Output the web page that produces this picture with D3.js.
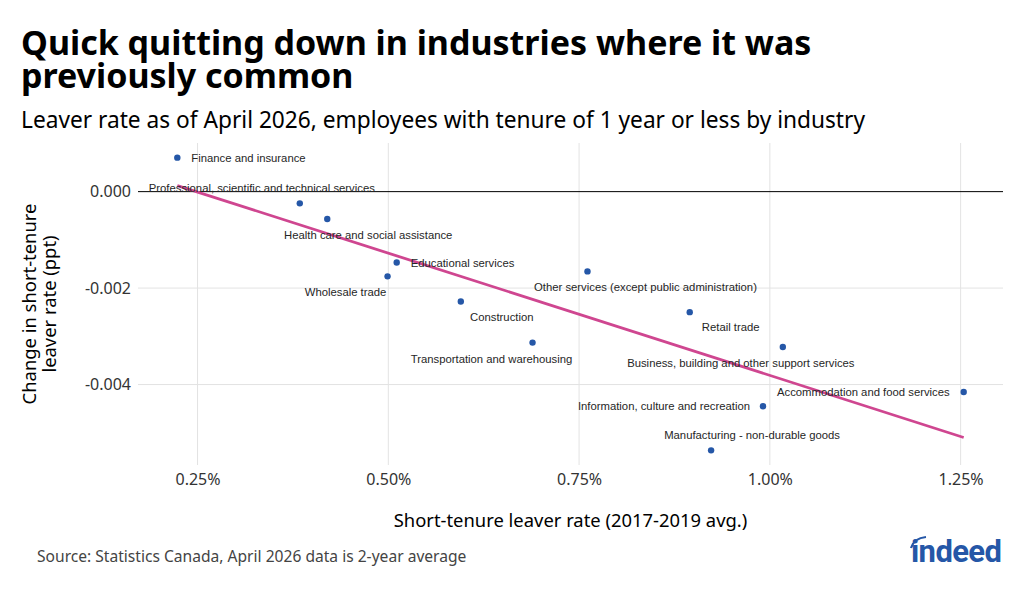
<html>
<head>
<meta charset="utf-8">
<script src="https://d3js.org/d3.v7.min.js"></script>
<style>
  body { margin: 0; background: #fff; }
  svg { display: block; }
</style>
</head>
<body>
<svg width="1024" height="614"></svg>
<script>

// industries, short-tenure leaver rate 2017-2019 avg (fraction), change by April 2026 (ppt)
var industries = [
  "Finance and insurance",
  "Professional, scientific and technical services",
  "Health care and social assistance",
  "Educational services",
  "Wholesale trade",
  "Construction",
  "Transportation and warehousing",
  "Other services (except public administration)",
  "Retail trade",
  "Business, building and other support services",
  "Accommodation and food services",
  "Information, culture and recreation",
  "Manufacturing - non-durable goods"
];
var baseRate = [0.002235, 0.00384, 0.00420, 0.00511, 0.00499, 0.00595, 0.00689, 0.00761, 0.00895, 0.01017, 0.01254, 0.00991, 0.00923];
var change = [0.000705, -0.000243, -0.000567, -0.001468, -0.001757, -0.002278, -0.003130, -0.001654, -0.002499, -0.003221, -0.004155, -0.004449, -0.005365];

var xTicks = [0.0025, 0.005, 0.0075, 0.01, 0.0125];
var yTicks = [0, -0.002, -0.004];

// where each label sits relative to its dot (layout, not data)
var labelPlace = [
  {dx: 14, dy: 0, a: "start"},
  {dx: -38, dy: -15, a: "middle"},
  {dx: 41, dy: 16, a: "middle"},
  {dx: 14, dy: 1, a: "start"},
  {dx: -42, dy: 16, a: "middle"},
  {dx: 41, dy: 16, a: "middle"},
  {dx: -41, dy: 16, a: "middle"},
  {dx: 58, dy: 16, a: "middle"},
  {dx: 41, dy: 15, a: "middle"},
  {dx: -42, dy: 16, a: "middle"},
  {dx: -14, dy: 0, a: "end"},
  {dx: -13, dy: 0, a: "end"},
  {dx: 41, dy: -15, a: "middle"}
];

var data = industries.map(function(d, i) {
  return {name: d, x: baseRate[i], y: change[i], lab: labelPlace[i]};
});

var blue = "#2557a7";
var pink = "#cf4690";

var svg = d3.select("svg");
svg.append("rect").attr("width", 1024).attr("height", 614).attr("fill", "#fff");

var pLeft = 138, pRight = 1003, pTop = 143, pBottom = 465;

// ggplot-style 5% expansion
function padded(ext) {
  var p = (ext[1] - ext[0]) * 0.05;
  return [ext[0] - p, ext[1] + p];
}
var x = d3.scaleLinear().domain(padded(d3.extent(baseRate))).range([pLeft, pRight]);
var y = d3.scaleLinear().domain(padded(d3.extent(change))).range([pBottom, pTop]);

// titles
svg.append("text").attr("x", 21).attr("y", 55)
  .style("font-family", "'Noto Sans'").style("font-weight", 700).style("font-size", "34px").attr("fill", "#000")
  .text("Quick quitting down in industries where it was");
svg.append("text").attr("x", 21).attr("y", 88)
  .style("font-family", "'Noto Sans'").style("font-weight", 700).style("font-size", "34px").attr("fill", "#000")
  .text("previously common");
svg.append("text").attr("x", 21).attr("y", 128)
  .style("font-family", "'Noto Sans'").style("font-size", "22.7px").attr("fill", "#000")
  .text("Leaver rate as of April 2026, employees with tenure of 1 year or less by industry");

// grid
var grid = svg.append("g");
grid.selectAll("line.v").data(xTicks).join("line")
  .attr("x1", d => x(d)).attr("x2", d => x(d))
  .attr("y1", pTop).attr("y2", pBottom)
  .attr("stroke", "#e3e3e3").attr("stroke-width", 1);
grid.selectAll("line.h").data(yTicks.filter(d => d !== 0)).join("line")
  .attr("x1", pLeft).attr("x2", pRight)
  .attr("y1", d => y(d)).attr("y2", d => y(d))
  .attr("stroke", "#e3e3e3").attr("stroke-width", 1);

// zero line
svg.append("line")
  .attr("x1", pLeft).attr("x2", pRight).attr("y1", y(0)).attr("y2", y(0))
  .attr("stroke", "#000").attr("stroke-width", 1);

// axes (labels only)
var fmtY = function(d) { return d3.format(".3f")(d).replace("\u2212", "-"); };
var yAxis = svg.append("g").attr("transform", "translate(" + pLeft + ",0)")
  .call(d3.axisLeft(y).tickValues(yTicks).tickFormat(fmtY).tickSize(0).tickPadding(7));
var xAxis = svg.append("g").attr("transform", "translate(0," + pBottom + ")")
  .call(d3.axisBottom(x).tickValues(xTicks).tickFormat(d3.format(".2%")).tickSize(0).tickPadding(9));
[yAxis, xAxis].forEach(function(g) {
  g.select(".domain").remove();
  g.selectAll("text").style("font-family", "'Noto Sans'").style("font-size", "16px").attr("fill", "#333");
});

// axis titles
svg.append("text").attr("x", (pLeft + pRight) / 2).attr("y", 527).attr("text-anchor", "middle")
  .style("font-family", "'Noto Sans'").style("font-size", "18.4px").attr("fill", "#000")
  .text("Short-tenure leaver rate (2017-2019 avg.)");
var yt = svg.append("text").attr("transform", "translate(36," + ((pTop + pBottom) / 2) + ") rotate(-90)")
  .attr("text-anchor", "middle")
  .style("font-family", "'Noto Sans'").style("font-size", "18.4px").attr("fill", "#000");
yt.append("tspan").attr("x", 0).attr("dy", 0).text("Change in short-tenure");
yt.append("tspan").attr("x", 0).attr("dy", 20).text("leaver rate (ppt)");

// linear fit
var mx = d3.mean(baseRate), my = d3.mean(change);
var sxy = d3.sum(baseRate, (v, i) => (v - mx) * (change[i] - my));
var sxx = d3.sum(baseRate, v => (v - mx) * (v - mx));
var slope = sxy / sxx, icpt = my - slope * mx;
var xr = d3.extent(baseRate);
svg.append("path")
  .datum(xr.map(v => [v, icpt + slope * v]))
  .attr("d", d3.line().x(d => x(d[0])).y(d => y(d[1])))
  .attr("fill", "none").attr("stroke", pink).attr("stroke-width", 2.8);

// points
svg.append("g").selectAll("circle").data(data).join("circle")
  .attr("cx", d => x(d.x)).attr("cy", d => y(d.y)).attr("r", 3.2)
  .attr("fill", blue);

// labels
svg.append("g").selectAll("text").data(data).join("text")
  .attr("x", d => x(d.x) + d.lab.dx)
  .attr("y", d => y(d.y) + d.lab.dy)
  .attr("dy", "0.35em")
  .attr("text-anchor", d => d.lab.a)
  .style("font-family", "'Liberation Sans', Arial, sans-serif").style("font-size", "11.3px")
  .attr("fill", "#262626")
  .text(d => d.name);

// source
svg.append("text").attr("x", 37).attr("y", 562)
  .style("font-family", "'Noto Sans'").style("font-size", "15.6px").attr("fill", "#444")
  .text("Source: Statistics Canada, April 2026 data is 2-year average");

// logo
var logo = svg.append("g");
logo.append("text").attr("x", 911).attr("y", 562)
  .style("font-family", "Roboto").style("font-weight", 700).style("font-size", "31px")
  .style("letter-spacing", "-0.6px").attr("fill", blue)
  .text("indeed");
logo.append("path").attr("d", "M911,548 Q914,538 926,537")
  .attr("fill", "none").attr("stroke", blue).attr("stroke-width", 2.2);

</script>
</body>
</html>
